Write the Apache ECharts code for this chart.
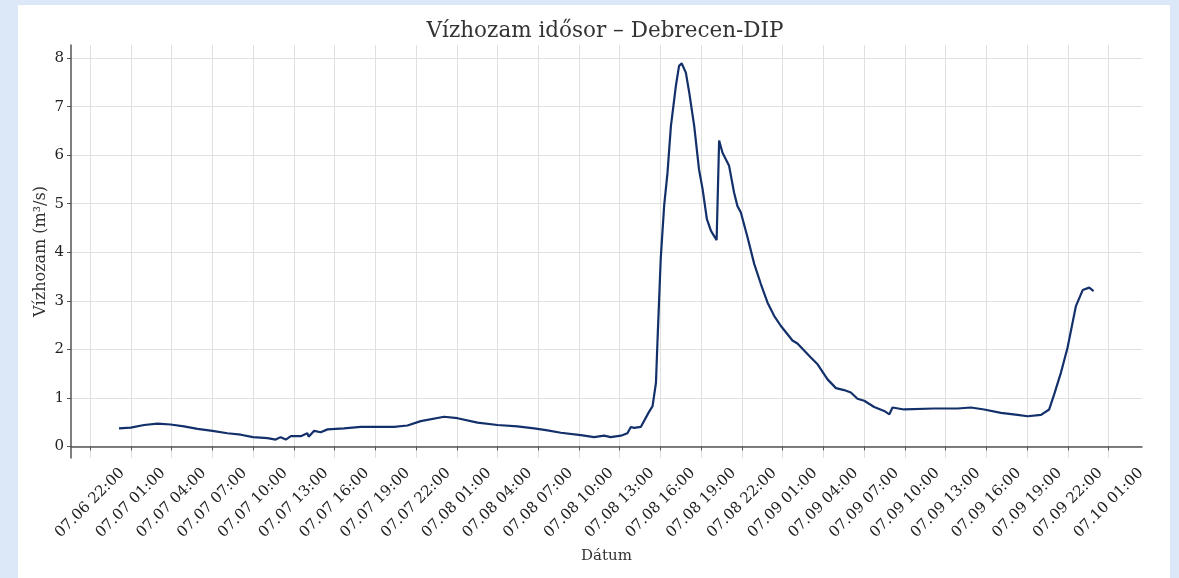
<!DOCTYPE html>
<html>
<head>
<meta charset="UTF-8">
<title>Vízhozam idősor</title>
<script src="https://cdn.jsdelivr.net/npm/echarts@6/dist/echarts.min.js"></script>
<style>
	html, body { margin: 0; padding: 0; background: #dce7f7; }
	#card { position: absolute; left: 18px; top: 5px; width: 1152px; height: 573px; background: #fff; }
	#chart { position: absolute; left: 0; top: 0; width: 1179px; height: 578px; }
</style>
</head>
<body>
	<div id="card"></div>
	<div id="chart"></div>
	<script type="text/javascript">
		var times = [
			'07.07 00:08', '07.07 01:00', '07.07 01:59', '07.07 02:58', '07.07 03:56', '07.07 04:55',
			'07.07 05:55', '07.07 07:01', '07.07 08:07', '07.07 09:06', '07.07 10:00', '07.07 11:04',
			'07.07 11:40', '07.07 12:02', '07.07 12:25', '07.07 12:47', '07.07 13:31', '07.07 14:00',
			'07.07 14:06', '07.07 14:30', '07.07 14:59', '07.07 15:29', '07.07 16:42', '07.07 17:56',
			'07.07 20:23', '07.07 21:22', '07.07 22:21', '07.08 00:04', '07.08 01:03', '07.08 02:32',
			'07.08 04:00', '07.08 05:28', '07.08 06:42', '07.08 07:41', '07.08 08:40', '07.08 10:08',
			'07.08 11:07', '07.08 11:51', '07.08 12:20', '07.08 13:05', '07.08 13:34', '07.08 13:49',
			'07.08 14:04', '07.08 14:33', '07.08 15:08', '07.08 15:25', '07.08 15:40', '07.08 15:47',
			'07.08 16:01', '07.08 16:16', '07.08 16:31', '07.08 16:46', '07.08 17:08', '07.08 17:22',
			'07.08 17:34', '07.08 17:52', '07.08 18:07', '07.08 18:29', '07.08 18:50', '07.08 19:06',
			'07.08 19:25', '07.08 19:43', '07.08 20:08', '07.08 20:19', '07.08 20:34', '07.08 21:03',
			'07.08 21:25', '07.08 21:40', '07.08 21:55', '07.08 22:25', '07.08 22:54', '07.08 23:23',
			'07.08 23:53', '07.09 00:22', '07.09 00:52', '07.09 01:43', '07.09 02:05', '07.09 03:04',
			'07.09 03:34', '07.09 04:18', '07.09 04:55', '07.09 05:31', '07.09 06:01', '07.09 06:30',
			'07.09 07:00', '07.09 07:44', '07.09 08:28', '07.09 08:51', '07.09 09:05', '07.09 09:56',
			'07.09 12:09', '07.09 13:52', '07.09 14:51', '07.09 15:50', '07.09 17:04', '07.09 18:17',
			'07.09 19:02', '07.09 20:01', '07.09 20:37', '07.09 20:59', '07.09 21:29', '07.09 21:58',
			'07.09 22:35', '07.09 23:05', '07.09 23:34', '07.09 23:53'
		];
		var flow = [
			0.37, 0.385, 0.44, 0.47, 0.45, 0.41,
			0.36, 0.32, 0.27, 0.24, 0.19, 0.17,
			0.14, 0.19, 0.14, 0.21, 0.21, 0.27,
			0.20, 0.32, 0.29, 0.35, 0.37, 0.40,
			0.40, 0.43, 0.52, 0.61, 0.58, 0.49,
			0.44, 0.41, 0.37, 0.33, 0.28, 0.23,
			0.19, 0.22, 0.19, 0.22, 0.27, 0.40,
			0.38, 0.40, 0.70, 0.83, 1.31, 2.20,
			3.86, 4.95, 5.64, 6.60, 7.43, 7.84,
			7.89, 7.70, 7.29, 6.60, 5.71, 5.30,
			4.68, 4.44, 4.25, 6.30, 6.05, 5.78,
			5.23, 4.95, 4.82, 4.30, 3.76, 3.35,
			2.96, 2.69, 2.48, 2.18, 2.12, 1.83,
			1.69, 1.38, 1.20, 1.16, 1.11, 0.98,
			0.94, 0.81, 0.73, 0.66, 0.80, 0.76,
			0.78, 0.78, 0.80, 0.76, 0.69, 0.65,
			0.62, 0.65, 0.76, 1.07, 1.52, 2.03,
			2.89, 3.22, 3.27, 3.20
		];
		var xTickLabels = [
			'07.06 22:00',
			'07.07 01:00', '07.07 04:00', '07.07 07:00', '07.07 10:00', '07.07 13:00', '07.07 16:00', '07.07 19:00', '07.07 22:00',
			'07.08 01:00', '07.08 04:00', '07.08 07:00', '07.08 10:00', '07.08 13:00', '07.08 16:00', '07.08 19:00', '07.08 22:00',
			'07.09 01:00', '07.09 04:00', '07.09 07:00', '07.09 10:00', '07.09 13:00', '07.09 16:00', '07.09 19:00', '07.09 22:00',
			'07.10 01:00'
		];
		var yTicks = [0, 1, 2, 3, 4, 5, 6, 7, 8];

		// hours since 07.06 00:00
		function toHours(s) {
			var d = +s.slice(3, 5), hh = +s.slice(6, 8), mm = +s.slice(9, 11);
			return (d - 6) * 24 + hh + mm / 60;
		}

		var xTicks = xTickLabels.map(toHours);
		var points = [];
		for (var i = 0; i < times.length; i++) {
			points.push([toHours(times[i]), flow[i]]);
		}

		var serif = 'DejaVu Serif';
		var chart = echarts.init(document.getElementById('chart'));
		chart.setOption({
			animation : false,
			title : {
				text : 'Vízhozam idősor – Debrecen-DIP',
				left : 605,
				textAlign : 'center',
				top : 20,
				padding : 0,
				textStyle : {
					fontFamily : serif,
					fontSize : 21.5,
					fontWeight : 'normal',
					color : '#333'
				}
			},
			grid : {
				left : 71,
				right : 37,
				top : 45,
				bottom : 120,
				outerBoundsMode : 'none'
			},
			xAxis : {
				type : 'value',
				min : 20.6,
				max : 99.45,
				name : 'Dátum',
				nameLocation : 'middle',
				nameGap : 91,
				nameTextStyle : { fontFamily : serif, fontSize : 15, color : '#333' },
				axisLine : { lineStyle : { color : '#555', width : 1.5 } },
				axisTick : { customValues : xTicks, length : 4, lineStyle : { color : '#555' } },
				axisLabel : {
					customValues : xTicks,
					rotate : 45,
					align : 'center',
					verticalAlign : 'middle',
					margin : 45,
					fontFamily : serif,
					fontSize : 15,
					color : '#222',
					formatter : function(v) {
						var k = xTicks.indexOf(v);
						return k >= 0 ? xTickLabels[k] : '';
					}
				},
				splitLine : { show : true, lineStyle : { color : '#e0e0e0', width : 1 } }
			},
			yAxis : {
				type : 'value',
				min : -0.24,
				max : 8.27,
				name : 'Vízhozam (m³/s)',
				nameLocation : 'middle',
				nameGap : 22,
				nameMoveOverlap : false,
				nameTextStyle : { fontFamily : serif, fontSize : 16, color : '#333' },
				axisLine : { show : true, lineStyle : { color : '#555', width : 1.5 } },
				axisTick : { show : true, customValues : yTicks, length : 4, lineStyle : { color : '#555' } },
				axisLabel : {
					customValues : yTicks,
					margin : 7,
					fontFamily : serif,
					fontSize : 15,
					color : '#222'
				},
				splitLine : { show : true, lineStyle : { color : '#e0e0e0', width : 1 } }
			},
			series : [ {
				name : 'Vízhozam',
				type : 'line',
				showSymbol : false,
				lineStyle : { color : '#13306b', width : 2.2 },
				itemStyle : { color : '#13306b' },
				data : points
			} ]
		});
	</script>
</body>
</html>
